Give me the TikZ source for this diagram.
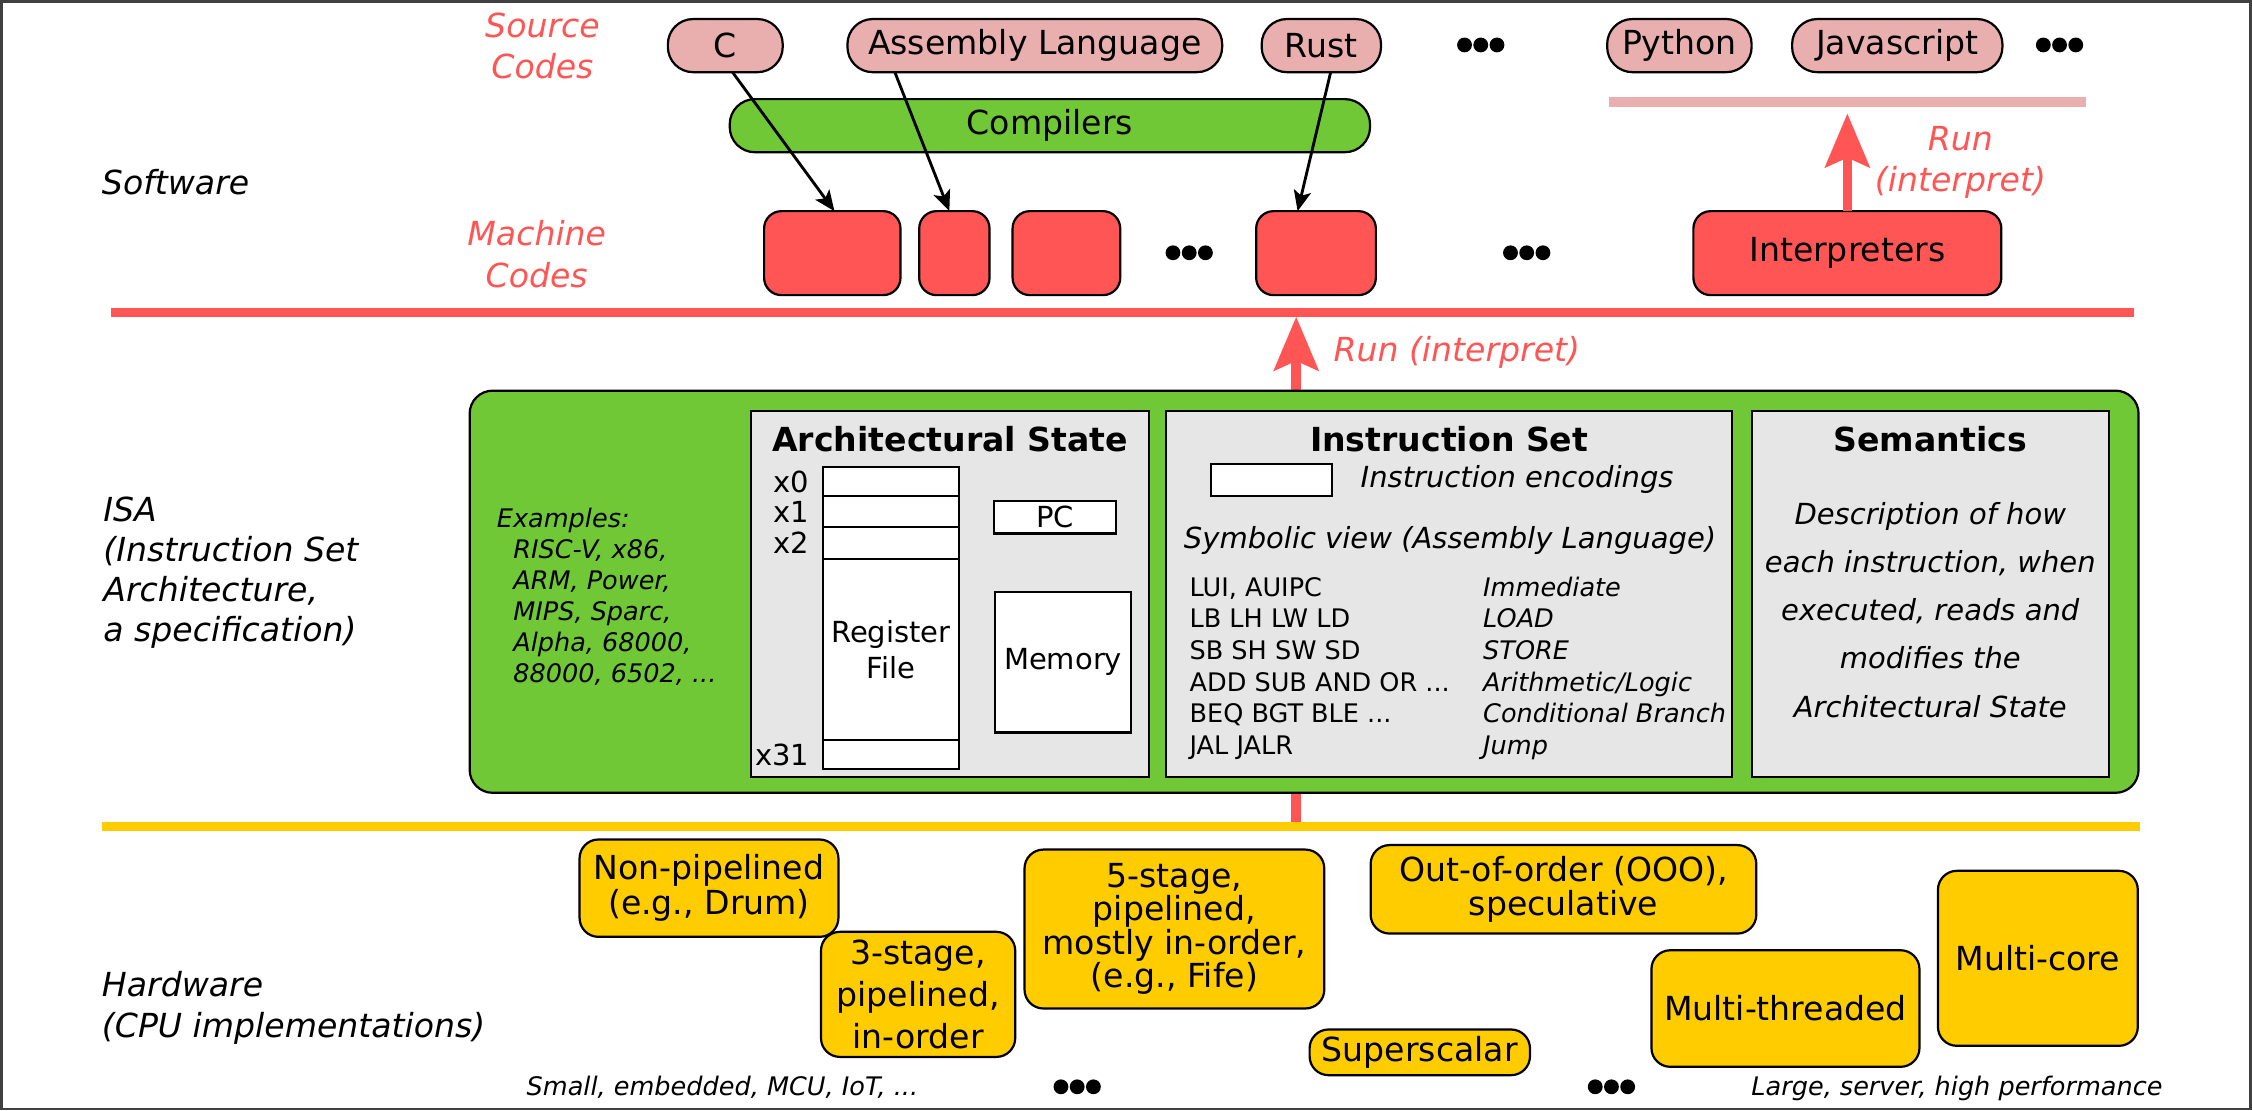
\documentclass[tikz,border=0pt]{standalone}
\usepackage{fontspec}
\setmainfont{DejaVu Sans}
\usetikzlibrary{arrows.meta}

\definecolor{srcpink}{HTML}{E9AFAF}
\definecolor{compgreen}{HTML}{71C837}
\definecolor{mcred}{HTML}{FF5555}
\definecolor{hwyellow}{HTML}{FFCC00}
\definecolor{isagray}{HTML}{E6E6E6}

\newcommand{\fsmain}{\fontsize{10.5}{13.2}\selectfont}
\newcommand{\fsmid}{\fontsize{9.2}{11.6}\selectfont}
\newcommand{\fssmall}{\fontsize{8.1}{9.85}\selectfont}
\newcommand{\threedots}[1]{\fill (#1) ++(-11.3,0) circle (2.35pt) ++(11.3,0) circle (2.35pt) ++(11.3,0) circle (2.35pt);}

\begin{document}
\begin{tikzpicture}[x=0.016cm, y=-0.016cm, line width=0.7pt,
  >={Stealth[length=6.5pt, width=5.5pt, inset=1.5pt]},
  every node/.style={font=\fsmain, inner sep=0pt, outer sep=0pt},
  srcpill/.style={draw, fill=srcpink, rounded corners=8pt, minimum height=0.592cm},
  comppill/.style={draw, fill=compgreen, rounded corners=8pt, minimum height=0.592cm},
  mcbox/.style={draw, fill=mcred, rounded corners=5.5pt, minimum height=0.936cm},
  hwbox/.style={draw, fill=hwyellow, rounded corners=6pt, align=center},
  isapart/.style={draw, fill=isagray, minimum height=4.085cm},
  regrow/.style={draw, fill=white, minimum width=1.514cm},
  redtext/.style={text=mcred, font=\fsmain\itshape, align=center},
  parttitle/.style={font=\fsmain\bfseries},
  runarrow/.style={line width=3pt, draw=mcred, -{Stealth[length=17pt, width=14pt, inset=3pt]}},
]
\useasboundingbox (0,0) rectangle (1568,773);
\draw[line width=0.8pt, black!75] (0.9,0.9) rectangle (1567.1,772.1);  % frame

%%% Software
\node[redtext] (src) at (377.7, 32) {Source\\Codes};
\node[redtext] (mach) at (373.7, 177) {Machine\\Codes};
\node[anchor=west, font=\fsmain\itshape] (sw) at (71, 127) {Software};

\node[srcpill, minimum width=1.28cm] (C) at (505, 31.75) {C};
\node[srcpill, minimum width=4.176cm] (Asm) at (720.5, 31.75) {Assembly Language};
\node[srcpill, minimum width=1.33cm] (Rust) at (920, 31.75) {Rust};
\node[srcpill, minimum width=1.61cm] (Py) at (1169.3, 31.75) {Python};
\node[srcpill, minimum width=2.344cm] (Js) at (1321, 31.75) {Javascript};
\coordinate (dotsA) at (1031, 31.3);
\coordinate (dotsB) at (1434, 31.3);
\threedots{dotsA}
\threedots{dotsB}

\node[comppill, minimum width=7.136cm] (Comp) at (731, 87.5) {Compilers};

\node[mcbox, minimum width=1.52cm] (M1) at (579.5, 176.25) {};
\node[mcbox, minimum width=0.784cm] (M2) at (664.5, 176.25) {};
\node[mcbox, minimum width=1.2cm] (M3) at (742.5, 176.25) {};
\node[mcbox, minimum width=1.334cm] (M4) at (916.3, 176.25) {};
\node[mcbox, minimum width=3.432cm] (Interp) at (1286.25, 176.25) {Interpreters};
\coordinate (dotsC) at (828, 176);
\coordinate (dotsD) at (1063, 176);
\threedots{dotsC}
\threedots{dotsD}

% compile arrows
\draw[->, line width=0.9pt] ([xshift=0.08cm]C.south) -- ([xshift=0.024cm]M1.north);
\draw[->, line width=0.9pt] ([xshift=-1.56cm]Asm.south) -- ([xshift=-0.056cm]M2.north);
\draw[->, line width=0.9pt] ([xshift=0.104cm]Rust.south) -- ([xshift=-0.205cm]M4.north);

% interpreted layer
\coordinate (pinkL) at (1120, 71);
\coordinate (pinkR) at (1452.7, 71);
\draw[line width=3pt, srcpink] (pinkL) -- (pinkR);
\coordinate (interpTip) at (1286.25, 79);
\draw[runarrow] (Interp.north) -- (interpTip);
\node[redtext] (run1) at (1365, 113) {Run\\(interpret)};

% software / ISA border
\coordinate (redL) at (77, 217.5);
\coordinate (redR) at (1485.5, 217.5);
\draw[line width=3pt, mcred] (redL) -- (redR);

%%% ISA
\coordinate (isaFoot) at (902.5, 575.4);
\coordinate (isaTip) at (902.5, 220.5);
\draw[runarrow] (isaFoot) -- (isaTip);
\node[redtext, anchor=west] (run2) at (928.5, 245) {Run (interpret)};

\node[anchor=north west, align=left, font=\fontsize{10.5}{12.7}\selectfont\itshape] (isa) at (72, 346)
  {ISA\\(Instruction Set\\Architecture,\\a specification)};

\draw[fill=compgreen, rounded corners=7.3pt] (327, 272) rectangle (1489, 552);  % ISA box
\node[anchor=north west, align=left, font=\fssmall\itshape] (ex) at (346, 353.5)
  {Examples:\\\hspace*{5.2pt}RISC-V, x86,\\\hspace*{5.2pt}ARM, Power,\\\hspace*{5.2pt}MIPS, Sparc,\\\hspace*{5.2pt}Alpha, 68000,\\\hspace*{5.2pt}88000, 6502, ...};

% architectural state
\node[isapart, minimum width=4.432cm] (arch) at (661.5, 413.65) {};
\node[parttitle] (archT) at (661.5, 305.5) {Architectural State};
\node[regrow, minimum height=0.32cm] (r0) at (620.3, 335.4) {};
\node[regrow, minimum height=0.342cm] (r1) at (620.3, 356.1) {};
\node[regrow, minimum height=0.36cm] (r2) at (620.3, 378) {};
\node[regrow, minimum height=2.016cm, align=center, font=\fsmid] (rf) at (620.3, 452.3) {Register\\File};
\node[regrow, minimum height=0.323cm] (r31) at (620.3, 525.4) {};
\node[anchor=east, font=\fsmid] (l0) at (563.4, 335.4) {x0};
\node[anchor=east, font=\fsmid] (l1) at (563.4, 356.1) {x1};
\node[anchor=east, font=\fsmid] (l2) at (563.4, 378) {x2};
\node[anchor=east, font=\fsmid] (l31) at (563.4, 525.4) {x31};
\node[draw, fill=white, minimum width=1.36cm, minimum height=0.365cm, font=\fsmid] (PC) at (734.5, 360) {PC};
\node[draw, fill=white, minimum width=1.51cm, minimum height=1.568cm, font=\fsmid] (Mem) at (740.2, 461) {Memory};

% instruction set
\node[isapart, minimum width=6.304cm] (iset) at (1009, 413.65) {};
\node[parttitle] (isetT) at (1009, 305.5) {Instruction Set};
\node[draw, fill=white, minimum width=1.352cm, minimum height=0.358cm] (enc) at (885.25, 334.2) {};
\node[anchor=west, font=\fsmid\itshape] (encT) at (947.4, 333.8) {Instruction encodings};
\node[font=\fsmid\itshape] (sym) at (1009.6, 376) {Symbolic view (Assembly Language)};
\node[anchor=base west, font=\fssmall] (opA) at (828.3, 415.5) {LUI, AUIPC};
\node[anchor=base west, font=\fssmall] (opB) at (828.3, 437.1) {LB LH LW LD};
\node[anchor=base west, font=\fssmall] (opC) at (828.3, 459.1) {SB SH SW SD};
\node[anchor=base west, font=\fssmall] (opD) at (828.3, 481.2) {ADD SUB AND OR ...};
\node[anchor=base west, font=\fssmall] (opE) at (828.3, 503.2) {BEQ BGT BLE ...};
\node[anchor=base west, font=\fssmall] (opF) at (828.3, 525.3) {JAL JALR};
\node[anchor=base west, font=\fssmall\itshape] (kA) at (1032.7, 415.5) {Immediate};
\node[anchor=base west, font=\fssmall\itshape] (kB) at (1032.7, 437.1) {LOAD};
\node[anchor=base west, font=\fssmall\itshape] (kC) at (1032.7, 459.1) {STORE};
\node[anchor=base west, font=\fssmall\itshape] (kD) at (1032.7, 481.2) {Arithmetic/Logic};
\node[anchor=base west, font=\fssmall\itshape] (kE) at (1032.7, 503.2) {Conditional Branch};
\node[anchor=base west, font=\fssmall\itshape] (kF) at (1032.7, 525.3) {Jump};

% semantics
\node[isapart, minimum width=3.979cm] (sem) at (1344, 413.65) {};
\node[parttitle] (semT) at (1344, 305.5) {Semantics};
\node[align=center, font=\fontsize{9.2}{15.3}\selectfont\itshape] (semD) at (1344, 424.5)
  {Description of how\\each instruction, when\\executed, reads and\\modifies the\\Architectural State};

% ISA / hardware border
\coordinate (yelL) at (70.8, 575.4);
\coordinate (yelR) at (1490, 575.4);
\draw[line width=2.9pt, hwyellow] (yelL) -- (yelR);

%%% Hardware
\node[anchor=north west, align=left, font=\fsmain\itshape] (hw) at (71, 676)
  {Hardware\\(CPU implementations)};

\node[hwbox, minimum width=2.885cm, minimum height=1.085cm, font=\fontsize{10.5}{11.1}\selectfont] (NP) at (493.65, 618.4) {Non-pipelined\\(e.g., Drum)};
\node[hwbox, minimum width=2.165cm, minimum height=1.394cm] (S3) at (639.25, 692.35) {3-stage,\\pipelined,\\in-order};
\node[hwbox, minimum width=3.341cm, minimum height=1.771cm, font=\fontsize{10.5}{10.6}\selectfont] (S5) at (817.7, 646.85) {5-stage,\\pipelined,\\mostly in-order,\\(e.g., Fife)};
\node[hwbox, minimum width=4.298cm, minimum height=0.986cm, font=\fontsize{10.5}{10.6}\selectfont] (OOO) at (1088.6, 619.2) {Out-of-order (OOO),\\speculative};
\node[hwbox, minimum width=2.456cm, minimum height=0.509cm] (SS) at (988.55, 732.7) {Superscalar};
\node[hwbox, minimum width=2.987cm, minimum height=1.299cm] (MT) at (1243.15, 702.2) {Multi-threaded};
\node[hwbox, minimum width=2.227cm, minimum height=1.95cm] (MC) at (1418.9, 667.25) {Multi-core};

\node[anchor=base, font=\fssmall\itshape] (small) at (503, 762.5) {Small, embedded, MCU, IoT, ...};
\node[anchor=base, font=\fssmall\itshape] (large) at (1362.6, 762.5) {Large, server, high performance};
\coordinate (dotsE) at (750, 756.7);
\coordinate (dotsF) at (1122, 756.7);
\threedots{dotsE}
\threedots{dotsF}
%%%
\end{tikzpicture}
\end{document}
